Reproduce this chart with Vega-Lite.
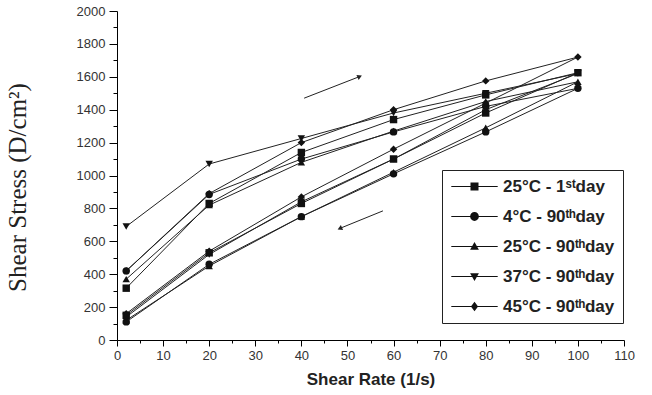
{
  "$schema": "https://vega.github.io/schema/vega-lite/v6.json",
  "width": 507,
  "height": 329,
  "autosize": "none",
  "padding": {"left": 117, "top": 11, "right": 28, "bottom": 55},
  "background": "white",
  "config": {"view": {"stroke": null},
    "axis": {"grid": false, "domainColor": "#000", "tickColor": "#000", "labelColor": "#333", "labelFont": "Liberation Sans", "titleColor": "#222", "labelOverlap": false, "labelBound": false, "labelFlush": false},
    "axisY": {"labelOverlap": false}, "axisLeft": {"labelOverlap": false}, "axisQuantitative": {"labelOverlap": false}},
  "resolve": {"scale": {"shape": "independent"}},
  "datasets": {
    "curves": [
      {"series": "25°C - 1ˢᵗday", "i": 1, "rate": 2, "stress": 315},
      {"series": "25°C - 1ˢᵗday", "i": 2, "rate": 20, "stress": 830},
      {"series": "25°C - 1ˢᵗday", "i": 3, "rate": 40, "stress": 1140},
      {"series": "25°C - 1ˢᵗday", "i": 4, "rate": 60, "stress": 1340},
      {"series": "25°C - 1ˢᵗday", "i": 5, "rate": 80, "stress": 1490},
      {"series": "25°C - 1ˢᵗday", "i": 6, "rate": 100, "stress": 1625},
      {"series": "25°C - 1ˢᵗday", "i": 7, "rate": 80, "stress": 1380},
      {"series": "25°C - 1ˢᵗday", "i": 8, "rate": 60, "stress": 1100},
      {"series": "25°C - 1ˢᵗday", "i": 9, "rate": 40, "stress": 830},
      {"series": "25°C - 1ˢᵗday", "i": 10, "rate": 20, "stress": 530},
      {"series": "25°C - 1ˢᵗday", "i": 11, "rate": 2, "stress": 150},
      {"series": "4°C - 90ᵗʰday", "i": 1, "rate": 2, "stress": 420},
      {"series": "4°C - 90ᵗʰday", "i": 2, "rate": 20, "stress": 885},
      {"series": "4°C - 90ᵗʰday", "i": 3, "rate": 40, "stress": 1100},
      {"series": "4°C - 90ᵗʰday", "i": 4, "rate": 60, "stress": 1265},
      {"series": "4°C - 90ᵗʰday", "i": 5, "rate": 80, "stress": 1420},
      {"series": "4°C - 90ᵗʰday", "i": 6, "rate": 100, "stress": 1530},
      {"series": "4°C - 90ᵗʰday", "i": 7, "rate": 80, "stress": 1265},
      {"series": "4°C - 90ᵗʰday", "i": 8, "rate": 60, "stress": 1010},
      {"series": "4°C - 90ᵗʰday", "i": 9, "rate": 40, "stress": 750},
      {"series": "4°C - 90ᵗʰday", "i": 10, "rate": 20, "stress": 460},
      {"series": "4°C - 90ᵗʰday", "i": 11, "rate": 2, "stress": 110},
      {"series": "25°C - 90ᵗʰday", "i": 1, "rate": 2, "stress": 370},
      {"series": "25°C - 90ᵗʰday", "i": 2, "rate": 20, "stress": 820},
      {"series": "25°C - 90ᵗʰday", "i": 3, "rate": 40, "stress": 1080},
      {"series": "25°C - 90ᵗʰday", "i": 4, "rate": 60, "stress": 1270},
      {"series": "25°C - 90ᵗʰday", "i": 5, "rate": 80, "stress": 1450},
      {"series": "25°C - 90ᵗʰday", "i": 6, "rate": 100, "stress": 1570},
      {"series": "25°C - 90ᵗʰday", "i": 7, "rate": 80, "stress": 1290},
      {"series": "25°C - 90ᵗʰday", "i": 8, "rate": 60, "stress": 1020},
      {"series": "25°C - 90ᵗʰday", "i": 9, "rate": 40, "stress": 750},
      {"series": "25°C - 90ᵗʰday", "i": 10, "rate": 20, "stress": 450},
      {"series": "25°C - 90ᵗʰday", "i": 11, "rate": 2, "stress": 120},
      {"series": "37°C - 90ᵗʰday", "i": 1, "rate": 2, "stress": 690},
      {"series": "37°C - 90ᵗʰday", "i": 2, "rate": 20, "stress": 1070},
      {"series": "37°C - 90ᵗʰday", "i": 3, "rate": 40, "stress": 1225},
      {"series": "37°C - 90ᵗʰday", "i": 4, "rate": 60, "stress": 1380},
      {"series": "37°C - 90ᵗʰday", "i": 5, "rate": 80, "stress": 1500},
      {"series": "37°C - 90ᵗʰday", "i": 6, "rate": 100, "stress": 1620},
      {"series": "37°C - 90ᵗʰday", "i": 7, "rate": 80, "stress": 1400},
      {"series": "37°C - 90ᵗʰday", "i": 8, "rate": 60, "stress": 1100},
      {"series": "37°C - 90ᵗʰday", "i": 9, "rate": 40, "stress": 840},
      {"series": "37°C - 90ᵗʰday", "i": 10, "rate": 20, "stress": 520},
      {"series": "37°C - 90ᵗʰday", "i": 11, "rate": 2, "stress": 140},
      {"series": "45°C - 90ᵗʰday", "i": 1, "rate": 2, "stress": 420},
      {"series": "45°C - 90ᵗʰday", "i": 2, "rate": 20, "stress": 890},
      {"series": "45°C - 90ᵗʰday", "i": 3, "rate": 40, "stress": 1200},
      {"series": "45°C - 90ᵗʰday", "i": 4, "rate": 60, "stress": 1400},
      {"series": "45°C - 90ᵗʰday", "i": 5, "rate": 80, "stress": 1575},
      {"series": "45°C - 90ᵗʰday", "i": 6, "rate": 100, "stress": 1720},
      {"series": "45°C - 90ᵗʰday", "i": 7, "rate": 80, "stress": 1440},
      {"series": "45°C - 90ᵗʰday", "i": 8, "rate": 60, "stress": 1160},
      {"series": "45°C - 90ᵗʰday", "i": 9, "rate": 40, "stress": 870},
      {"series": "45°C - 90ᵗʰday", "i": 10, "rate": 20, "stress": 540},
      {"series": "45°C - 90ᵗʰday", "i": 11, "rate": 2, "stress": 160}
    ],
    "arrows": [
      {"dir": "increasing", "rate0": 40.6, "stress0": 1470, "rate": 52.5, "stress": 1600, "angle": 66},
      {"dir": "decreasing", "rate0": 57.7, "stress0": 785, "rate": 48.5, "stress": 680, "angle": 246}
    ]
  },
  "encoding": {
    "x": {"field": "rate", "type": "quantitative", "scale": {"domain": [0, 110], "nice": false},
      "axis": {"values": [0,5,10,15,20,25,30,35,40,45,50,55,60,65,70,75,80,85,90,95,100,105,110],
        "labelExpr": "datum.value % 10 === 0 ? datum.label : ''", "labelOverlap": false,
        "tickSize": {"condition": {"test": "datum.value % 10 === 0", "value": 6}, "value": 3},
        "labelFontSize": 13, "labelPadding": 3, "title": "Shear Rate (1/s)", "titleFont": "Liberation Sans", "titleFontWeight": "bold", "titleFontSize": 17, "titlePadding": 9}},
    "y": {"field": "stress", "type": "quantitative", "scale": {"domain": [0, 2000], "nice": false},
      "axis": {"values": [0,100,200,300,400,500,600,700,800,900,1000,1100,1200,1300,1400,1500,1600,1700,1800,1900,2000],
        "format": "d", "labelOverlap": false, "labelSeparation": 0,
        "labelExpr": "datum.value % 200 === 0 ? datum.label : ''",
        "tickSize": {"condition": {"test": "datum.value % 200 === 0", "value": 8}, "value": 4},
        "labelFontSize": 13, "labelPadding": 4, "title": "Shear Stress (D/cm²)", "titleFont": "Liberation Serif", "titleFontWeight": "normal", "titleFontSize": 25, "titlePadding": 46, "titleY": 176}}
  },
  "layer": [
    {
      "data": {"name": "curves"},
      "mark": {"type": "line", "color": "#222", "strokeWidth": 1},
      "encoding": {
        "detail": {"field": "series"},
        "order": {"field": "i", "type": "quantitative"}
      }
    },
    {
      "data": {"name": "curves"},
      "mark": {"type": "point", "filled": true, "color": "#111", "size": 55, "opacity": 1},
      "encoding": {
        "shape": {"field": "series", "type": "nominal",
          "scale": {"domain": ["25°C - 1ˢᵗday", "4°C - 90ᵗʰday", "25°C - 90ᵗʰday", "37°C - 90ᵗʰday", "45°C - 90ᵗʰday"],
            "range": ["square", "circle", "triangle-up", "triangle-down", "diamond"]},
          "legend": null}
      }
    },
    {
      "data": {"name": "curves"},
      "mark": {"type": "point", "filled": true, "color": "#111", "size": 1, "opacity": 0},
      "encoding": {
        "shape": {"field": "series", "type": "nominal",
          "scale": {"domain": ["25°C - 1ˢᵗday", "4°C - 90ᵗʰday", "25°C - 90ᵗʰday", "37°C - 90ᵗʰday", "45°C - 90ᵗʰday"],
            "range": [
              "M-2.9,-0.07H2.9V0.07H-2.9Z M-0.5,-0.5H0.5V0.5H-0.5Z",
              "M-2.9,-0.07H2.9V0.07H-2.9Z M0.55,0A0.55,0.55 0 1,1 -0.55,0A0.55,0.55 0 1,1 0.55,0Z",
              "M-2.9,-0.07H2.9V0.07H-2.9Z M0,-0.55L0.55,0.4H-0.55Z",
              "M-2.9,-0.07H2.9V0.07H-2.9Z M0,0.55L-0.55,-0.4H0.55Z",
              "M-2.9,-0.07H2.9V0.07H-2.9Z M0,-0.6L0.45,0L0,0.6L-0.45,0Z"
            ]},
          "legend": {"title": null, "orient": "none", "legendX": 325, "legendY": 159, "fillColor": "white", "strokeColor": "#222", "padding": 8,
            "labelFont": "Liberation Sans", "labelFontSize": 17, "labelFontWeight": "bold", "labelColor": "#222", "rowPadding": 12,
            "symbolSize": 256, "symbolOpacity": 1, "symbolFillColor": "#111", "symbolStrokeColor": "#222", "symbolStrokeWidth": 0, "symbolOffset": 16, "labelOffset": 20}}
      }
    },
    {
      "data": {"name": "arrows"},
      "mark": {"type": "rule", "color": "#222", "strokeWidth": 1},
      "encoding": {
        "x2": {"field": "rate0"},
        "y2": {"field": "stress0"}
      }
    },
    {
      "data": {"name": "arrows"},
      "mark": {"type": "point", "shape": "triangle", "filled": true, "color": "#222", "size": 30, "opacity": 1},
      "encoding": {
        "angle": {"field": "angle", "type": "quantitative", "scale": null}
      }
    }
  ]
}
